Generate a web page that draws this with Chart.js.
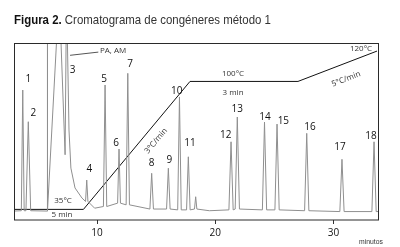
<!DOCTYPE html>
<html>
<head>
<meta charset="utf-8">
<script src="https://cdn.jsdelivr.net/npm/chart.js@4.4.1/dist/chart.umd.min.js"></script>
<style>
  html, body { margin: 0; padding: 0; background: #fff; }
  canvas { display: block; }
</style>
</head>
<body>
<canvas id="chart" width="400" height="247"></canvas>
<script>
// numbered peaks (time in min, height in signal units)
const peakNumbers = ['1','2','3','4','5','6','7','8','9','10','11','12','13','14','15','16','17','18'];
const peakTimes   = [3.72, 4.19, 7.42, 9.13, 10.68, 11.86, 12.60, 14.62, 16.03, 16.97, 17.72, 21.33, 21.86, 24.16, 25.22, 27.73, 30.71, 33.42];
const peakHeights = [72.1, 53.3, 130, 18.7, 75.1, 37.1, 82.0, 22.7, 25.7, 68.0, 32.5, 41.4, 56.1, 53.1, 51.9, 46.4, 31.0, 41.4];
const peakWidths  = [0.12, 0.2, 0, 0.1, 0.14, 0.12, 0.14, 0.15, 0.15, 0.15, 0.15, 0.18, 0.18, 0.18, 0.18, 0.18, 0.18, 0.18];
const peakFeet    = [0.5, 0.5, 0, 6, 3, 5, 4, 1.5, 1.5, 1, 1, 1, 1.5, 1, 1, 0.5, 0, 0];

// peaks without a number
const minorTimes   = [5.80, 18.34];
const minorHeights = [130, 8.8];
const minorWidths  = [0.02, 0.1];
const minorFeet    = [0.3, 1.5];

// solvent front (PA, AM) and its tail
const solventTimes  = [6.80, 7.30, 7.63, 7.79, 8.14, 8.73];
const solventLevels = [130, 33.7, 48.4, 25.8, 14, 8];

// baseline between peaks
const baseTimes  = [2.98, 9.8, 19.5, 33.84];
const baseLevels = [0.3, 2, 0.5, 0];

// oven temperature program
const tempTimes  = [2.98, 8.85, 17.86, 26.99, 33.67];
const tempLevels = [1.3, 1.3, 77.2, 77.2, 95.2];

const xTicks = [10, 20, 30];

// build the trace
let trace = [];
const addPeaks = (times, heights, widths, feet) => {
  times.forEach((t, i) => {
    if (widths[i] > 0) trace.push({x: t - widths[i], y: feet[i]});
    trace.push({x: t, y: heights[i]});
    if (widths[i] > 0) trace.push({x: t + widths[i], y: feet[i]});
  });
};
addPeaks(peakTimes, peakHeights, peakWidths, peakFeet);
addPeaks(minorTimes, minorHeights, minorWidths, minorFeet);
solventTimes.forEach((t, i) => trace.push({x: t, y: solventLevels[i]}));
baseTimes.forEach((t, i) => trace.push({x: t, y: baseLevels[i]}));
trace.sort((a, b) => a.x - b.x);

const tempLine = tempTimes.map((t, i) => ({x: t, y: tempLevels[i]}));

// label offsets in px from the peak top
const labelNudge = [[5.6,-10.7],[5,-9],[6.2,27],[2.6,-10.7],[-1,-6],[-3,-6.3],[2.3,-9],[0,-10],[1,-8.3],
  [-2.8,-5.3],[1.7,-13.4],[-5.3,-6.7],[0,-7.7],[0.5,-4.7],[6.3,-3.3],[3.3,-6.6],[-2,-12],[-3,-5.7]];

// notes on the temperature program: text, time, level, angle
const notes = [
  ['35°C', 7.13, 6.3, 0],
  ['5 min', 7.04, -2.0, 0],
  ['3°C/min', 14.99, 41.9, -50],
  ['100°C', 21.5, 81.6, 0],
  ['3 min', 21.5, 70.3, 0],
  ['5°C/min', 31.05, 78.6, -21],
  ['120°C', 32.32, 96.4, 0]
];

const numFont = '"Open Sans", "Noto Sans", sans-serif';

const extras = {
  id: 'extras',
  afterDraw(chart) {
    const ctx = chart.ctx;
    const xs = chart.scales.x, ys = chart.scales.y;
    const a = chart.chartArea;
    ctx.save();

    // frame
    ctx.strokeStyle = '#2a2a2a';
    ctx.lineWidth = 1;
    ctx.strokeRect(Math.round(a.left) + 0.5, Math.round(a.top) + 0.5,
      Math.round(a.right - a.left) - 1, Math.round(a.bottom - a.top) - 0.5);

    // title, squeezed a bit to look like a narrow face
    ctx.save();
    ctx.translate(14, 23.5);
    ctx.scale(0.88, 1);
    ctx.textBaseline = 'alphabetic';
    ctx.textAlign = 'left';
    ctx.fillStyle = '#111';
    ctx.font = 'bold 13px "Liberation Sans", Arial, sans-serif';
    ctx.fillText('Figura 2.', 0, 0);
    const w = ctx.measureText('Figura 2. ').width;
    ctx.fillStyle = '#333';
    ctx.font = '13px "Liberation Sans", Arial, sans-serif';
    ctx.fillText('Cromatograma de congéneres método 1', w, 0);
    ctx.restore();

    // peak numbers
    ctx.fillStyle = '#111';
    ctx.font = '10px ' + numFont;
    ctx.textAlign = 'center';
    ctx.textBaseline = 'middle';
    peakNumbers.forEach((n, i) => {
      const px = xs.getPixelForValue(peakTimes[i]) + labelNudge[i][0];
      const py = ys.getPixelForValue(Math.min(peakHeights[i], ys.max)) + labelNudge[i][1];
      ctx.fillText(n, px, py);
    });

    // temperature notes
    ctx.fillStyle = '#333';
    ctx.font = '8px ' + numFont;
    notes.forEach(([txt, t, v, ang]) => {
      ctx.save();
      ctx.translate(xs.getPixelForValue(t), ys.getPixelForValue(v));
      ctx.rotate(ang * Math.PI / 180);
      ctx.fillText(txt, 0, 0);
      ctx.restore();
    });

    // solvent label with leader
    ctx.strokeStyle = '#555';
    ctx.beginPath();
    ctx.moveTo(xs.getPixelForValue(7.72), ys.getPixelForValue(92.7));
    ctx.lineTo(xs.getPixelForValue(10.11), ys.getPixelForValue(94.6));
    ctx.stroke();
    ctx.textAlign = 'left';
    ctx.fillText('PA, AM', xs.getPixelForValue(10.25), ys.getPixelForValue(95.2));

    // axis unit
    ctx.save();
    ctx.translate(xs.getPixelForValue(33.16), 242);
    ctx.scale(0.85, 1);
    ctx.textAlign = 'center';
    ctx.font = '8px "Liberation Sans", Arial, sans-serif';
    ctx.fillText('minutos', 0, 0);
    ctx.restore();
    ctx.restore();
  }
};

new Chart(document.getElementById('chart'), {
  type: 'line',
  data: {
    datasets: [
      { data: trace, borderColor: '#8f8f8f', borderWidth: 1, pointRadius: 0, tension: 0 },
      { data: tempLine, borderColor: '#111', borderWidth: 1, pointRadius: 0, tension: 0 }
    ]
  },
  options: {
    responsive: false,
    animation: false,
    layout: { padding: { left: 14, right: 21, top: 43, bottom: 5 } },
    plugins: { legend: { display: false }, tooltip: { enabled: false } },
    scales: {
      x: {
        type: 'linear', min: 2.98, max: 33.84,
        afterBuildTicks: axis => { axis.ticks = xTicks.map(v => ({ value: v })); },
        grid: { drawOnChartArea: false, tickLength: 4, color: '#333' },
        border: { display: false },
        ticks: { font: { size: 10, family: numFont }, color: '#111', padding: 3 }
      },
      y: { display: false, min: -5, max: 100 }
    }
  },
  plugins: [extras]
});
</script>
</body>
</html>
